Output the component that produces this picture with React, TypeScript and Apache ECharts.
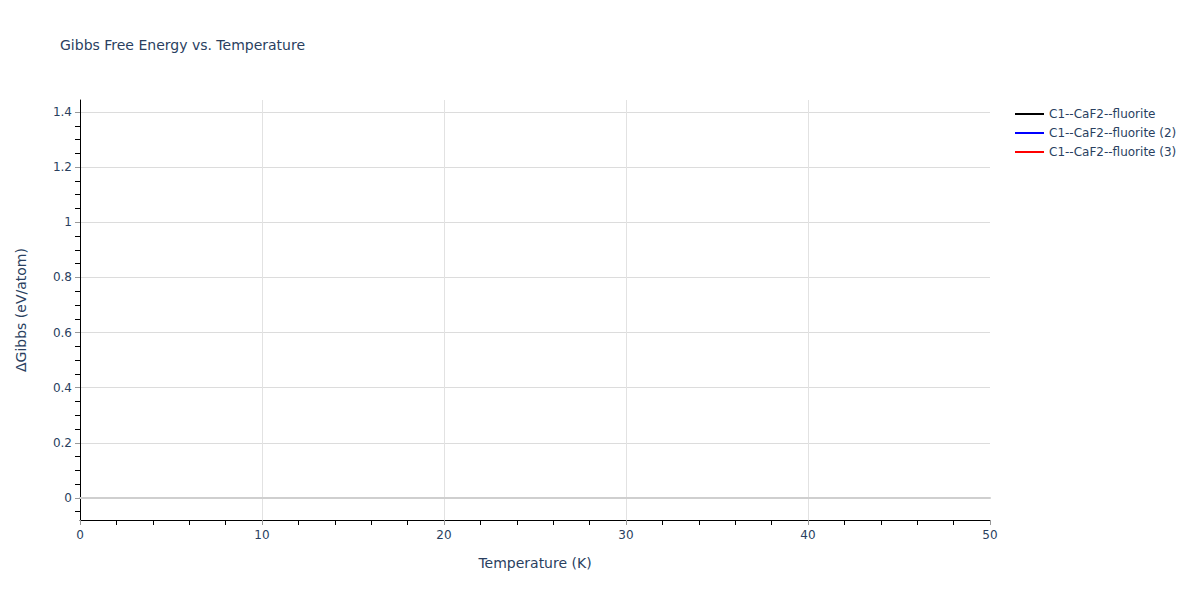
import React, { useEffect, useRef } from "react";
import * as echarts from "echarts";

const seriesNames = ["C1--CaF2--fluorite", "C1--CaF2--fluorite (2)", "C1--CaF2--fluorite (3)"];
const seriesColors = ["#000000", "#0000ff", "#ff0000"];
// No data points are visible in the reference.
const seriesData: number[][][] = [[], [], []];

const xMin = 0;
const xMax = 50;
const yMin = -0.08;
const yMax = 1.4435;
const yMajorTicks = [0, 0.2, 0.4, 0.6, 0.8, 1, 1.2, 1.4];
const yMinorTicks = [
  -0.05, 0.05, 0.1, 0.15, 0.25, 0.3, 0.35, 0.45, 0.5, 0.55, 0.65, 0.7, 0.75,
  0.85, 0.9, 0.95, 1.05, 1.1, 1.15, 1.25, 1.3, 1.35,
];

const FONT = "'DejaVu Sans', Verdana, sans-serif";
const TXT = "#2a3f5f";

export default function App() {
  const ref = useRef<HTMLDivElement>(null);
  useEffect(() => {
    if (!ref.current) return;
    const chart = echarts.init(ref.current, undefined, { renderer: "svg" });
    chart.setOption({
      animation: false,
      backgroundColor: "#ffffff",
      title: {
        text: "Gibbs Free Energy vs. Temperature",
        left: 55,
        top: 33,
        textStyle: { fontFamily: FONT, fontSize: 14, fontWeight: "normal", color: TXT },
      },
      legend: {
        orient: "vertical",
        left: 1010,
        top: 102,
        icon: "rect",
        itemWidth: 29,
        itemHeight: 2,
        itemGap: 5,
        textStyle: { fontFamily: FONT, fontSize: 12, color: TXT, lineHeight: 14 },
        data: seriesNames,
      },
      grid: { left: 80, right: 210, top: 100, bottom: 80, containLabel: false },
      xAxis: [
        {
          type: "value",
          min: xMin,
          max: xMax,
          interval: 10,
          name: "Temperature (K)",
          nameLocation: "middle",
          nameGap: 36,
          nameTextStyle: { fontFamily: FONT, fontSize: 14, color: TXT },
          axisLine: { show: true, onZero: false, lineStyle: { color: "#000", width: 1 } },
          axisTick: { show: true, length: 5, lineStyle: { color: "#999" } },
          minorTick: { show: true, splitNumber: 5, length: 5, lineStyle: { color: "#000" } },
          axisLabel: { fontFamily: FONT, fontSize: 12, color: TXT, margin: 9 },
          splitLine: { show: true, showMinLine: false, showMaxLine: false, lineStyle: { color: "#e2e2e2", width: 1 } },
        },
        {
          type: "value",
          min: xMin,
          max: xMax,
          position: "bottom",
          axisLine: { show: true, onZero: true, onZeroAxisIndex: 0, lineStyle: { color: "#cfcfcf", width: 2 } },
          axisTick: { show: false },
          axisLabel: { show: false },
          splitLine: { show: false },
        },
      ],
      yAxis: [
        {
          type: "value",
          min: yMin,
          max: yMax,
          name: "ΔGibbs (eV/atom)",
          nameLocation: "middle",
          nameGap: 52,
          nameTextStyle: { fontFamily: FONT, fontSize: 14, color: TXT },
          axisLine: { show: true, onZero: false, lineStyle: { color: "#000", width: 1 } },
          axisTick: { show: true, length: 5, customValues: yMajorTicks, lineStyle: { color: "#999" } },
          axisLabel: {
            fontFamily: FONT,
            fontSize: 12,
            color: TXT,
            margin: 8,
            customValues: yMajorTicks,
            formatter: (v: number) => String(Math.round(v * 10) / 10),
          },
          splitLine: { show: true, customValues: yMajorTicks, lineStyle: { color: "#dcdcdc", width: 1 } },
        },
        {
          type: "value",
          min: yMin,
          max: yMax,
          position: "left",
          axisLine: { show: false, onZero: false },
          axisTick: { show: true, length: 5, customValues: yMinorTicks, lineStyle: { color: "#000" } },
          axisLabel: { show: false },
          splitLine: { show: false },
        },
      ],
      series: seriesNames.map((name, i) => ({
        name,
        type: "line",
        xAxisIndex: 0,
        yAxisIndex: 0,
        showSymbol: false,
        lineStyle: { color: seriesColors[i], width: 2 },
        itemStyle: { color: seriesColors[i] },
        data: seriesData[i],
      })),
    });
    return () => chart.dispose();
  }, []);
  return <div ref={ref} style={{ position: "absolute", left: 0, top: 0, width: 1200, height: 600 }} />;
}
